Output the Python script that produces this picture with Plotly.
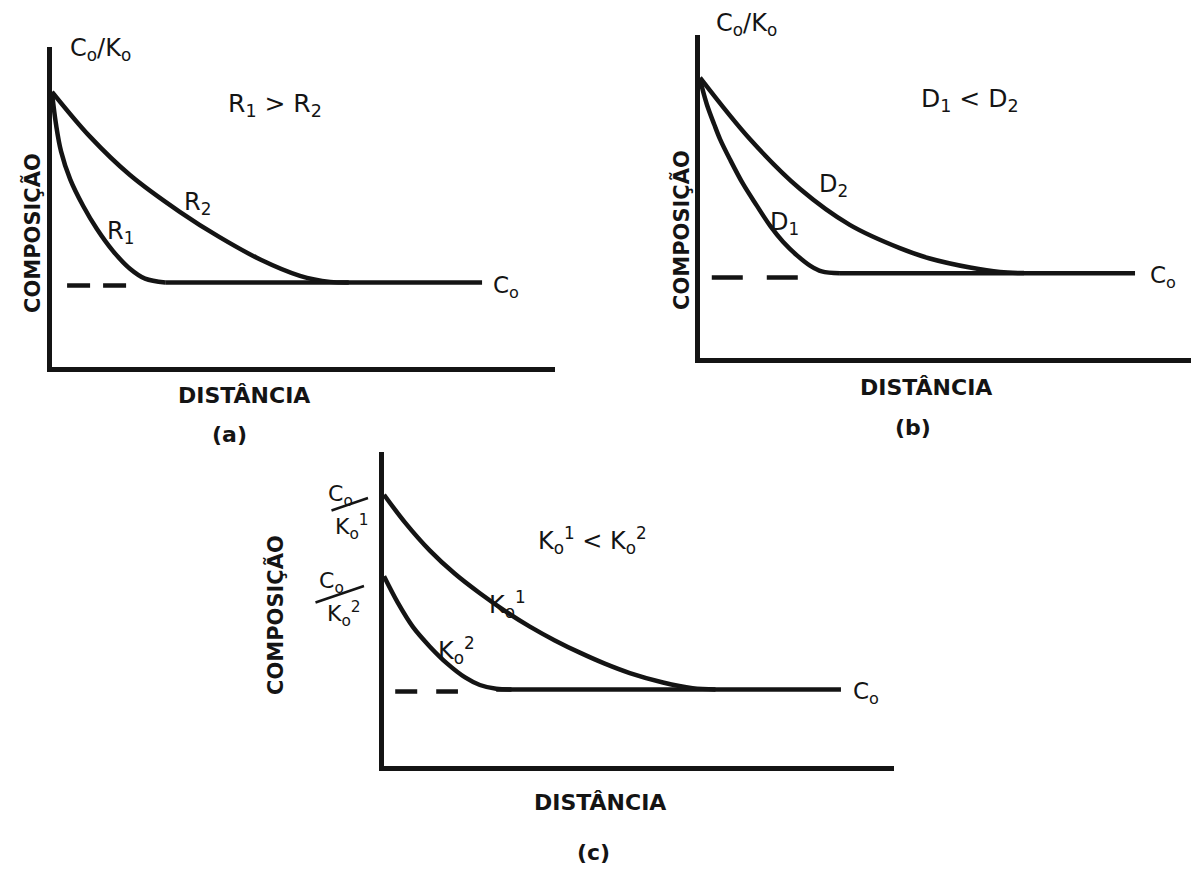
import plotly.graph_objects as go

# ---------------- data (schematic units: distance 0-100, composition 0-100) -------------
# panel (a): effect of growth rate R
a_r2_x = [0, 7.55, 15.5, 25.4, 33.4, 41.4, 49.3, 55.3, 59.0]
a_r2_y = [86.0, 72.0, 60.0, 48.5, 40.5, 33.6, 28.5, 26.6, 26.4]
a_r1_x = [0, 0.8, 1.8, 3.6, 6.2, 8.9, 12.1, 15.5, 18.5, 22.5]
a_r1_y = [85.7, 75.8, 67.4, 58.7, 50.3, 43.2, 36.3, 30.7, 27.6, 26.4]
a_base_x = [22.5, 85.5]
a_base_y = [26.4, 26.4]
a_dash_x = [3.0, 15.1]
a_dash_y = [25.5, 25.5]

# panel (b): effect of diffusion coefficient D
b_d2_x = [0, 10.2, 20.4, 30.5, 40.7, 46.8, 55.0, 61.1, 66.0]
b_d2_y = [86.8, 67.7, 52.3, 41.2, 34.0, 30.8, 28.0, 26.6, 26.3]
b_d1_x = [0, 1.4, 2.9, 4.1, 6.1, 8.8, 11.6, 14.3, 16.9, 19.8, 22.4, 24.8, 28.5]
b_d1_y = [86.2, 78.5, 72.3, 67.7, 61.5, 53.8, 47.1, 40.9, 36.0, 31.7, 28.6, 26.8, 26.2]
b_base_x = [28.5, 88.6]
b_base_y = [26.2, 26.2]
b_dash_x = [2.4, 20.0]
b_dash_y = [24.9, 24.9]

# panel (c): effect of partition coefficient K0
c_k1_x = [0, 4.1, 9.0, 13.9, 18.8, 23.7, 28.6, 33.5, 38.4, 43.3, 48.2, 54.7, 60.5, 65.0]
c_k1_y = [86.4, 77.6, 68.6, 61.2, 55.0, 49.4, 44.4, 40.0, 36.1, 32.6, 29.6, 26.6, 24.8, 24.4]
c_k2_x = [0, 2.7, 5.7, 9.0, 12.4, 15.9, 18.8, 22.0, 25.0]
c_k2_y = [60.4, 52.0, 44.2, 38.0, 32.6, 28.2, 25.8, 24.6, 24.4]
c_base_x = [22.0, 89.6]
c_base_y = [24.4, 24.4]
c_dash_x = [2.2, 14.5]
c_dash_y = [23.7, 23.7]

# ---------------- styling -------------
INK = "#141414"
FONT = "DejaVu Sans"
W, H = 1191, 869


def px_dom_x(l, r):
    return [l / W, r / W]


def px_dom_y(top, bottom):
    return [(H - bottom) / H, (H - top) / H]


fig = go.Figure()


def curve(x, y, ax, width=4.5, dash=None):
    fig.add_trace(go.Scatter(
        x=x, y=y, xaxis=ax[0], yaxis=ax[1], mode="lines",
        line=dict(color=INK, width=width, shape="spline", smoothing=1.0,
                  dash=dash),
        showlegend=False, hoverinfo="skip"))


A = ("x", "y")
B = ("x2", "y2")
C = ("x3", "y3")

curve(a_r2_x, a_r2_y, A)
curve(a_r1_x, a_r1_y, A)
curve(a_base_x, a_base_y, A)
curve(a_dash_x, a_dash_y, A, dash="23px,13px")

curve(b_d2_x, b_d2_y, B)
curve(b_d1_x, b_d1_y, B)
curve(b_base_x, b_base_y, B)
curve(b_dash_x, b_dash_y, B, dash="31px,24px")

curve(c_k1_x, c_k1_y, C)
curve(c_k2_x, c_k2_y, C)
curve(c_base_x, c_base_y, C)
curve(c_dash_x, c_dash_y, C, dash="22px,19px")

axis_style = dict(showline=True, linewidth=5, linecolor=INK, showgrid=False,
                  zeroline=False, showticklabels=False, ticks="",
                  range=[0, 100], fixedrange=True)

fig.update_layout(
    width=W, height=H, margin=dict(l=0, r=0, t=0, b=0),
    paper_bgcolor="white", plot_bgcolor="white",
    xaxis=dict(domain=px_dom_x(52, 555), anchor="y", **axis_style),
    yaxis=dict(domain=px_dom_y(47, 367), anchor="x", **axis_style),
    xaxis2=dict(domain=px_dom_x(700, 1191), anchor="y2", **axis_style),
    yaxis2=dict(domain=px_dom_y(35, 358), anchor="x2", **axis_style),
    xaxis3=dict(domain=px_dom_x(384, 894), anchor="y3", **axis_style),
    yaxis3=dict(domain=px_dom_y(452, 766), anchor="x3", **axis_style),
    showlegend=False,
)


def label(px, py, text, size=22, bold=False, angle=0):
    fig.add_annotation(
        xref="paper", yref="paper", x=px / W, y=1 - py / H, text=text,
        showarrow=False, textangle=angle, xanchor="center", yanchor="middle",
        font=dict(family=FONT, size=size, color=INK,
                  weight="bold" if bold else "normal"))


def stroke(x_head, y_head, dx_tail, dy_tail):
    fig.add_annotation(
        xref="paper", yref="paper", x=x_head / W, y=1 - y_head / H,
        ax=dx_tail, ay=dy_tail, axref="pixel", ayref="pixel", text="",
        showarrow=True, arrowhead=0, arrowwidth=2.5, arrowcolor=INK,
        standoff=0, startstandoff=0)


# panel (a)
label(100, 50, "C<sub>o</sub>/K<sub>o</sub>", 24)
label(275, 105, "R<sub>1</sub> > R<sub>2</sub>", 25)
label(198, 203, "R<sub>2</sub>", 24)
label(120, 233, "R<sub>1</sub>", 24)
label(506, 287, "C<sub>o</sub>", 23)
label(33, 233, "COMPOSIÇÃO", 21, bold=True, angle=-90)
label(244, 395, "DISTÂNCIA", 22, bold=True)
label(229, 434, "(a)", 22, bold=True)

# panel (b)
label(746, 25, "C<sub>o</sub>/K<sub>o</sub>", 24)
label(970, 100, "D<sub>1</sub> < D<sub>2</sub>", 25)
label(833, 186, "D<sub>2</sub>", 24)
label(785, 223, "D<sub>1</sub>", 24)
label(1163, 277, "C<sub>o</sub>", 23)
label(681, 230, "COMPOSIÇÃO", 21, bold=True, angle=-90)
label(926, 387, "DISTÂNCIA", 22, bold=True)
label(913, 427, "(b)", 22, bold=True)

# panel (c)
label(340, 495, "C<sub>o</sub>", 22)
stroke(368, 498, -38, 13)
label(352, 527, "K<sub>o</sub><sup>1</sup>", 22)
label(332, 582, "C<sub>o</sub>", 22)
stroke(364, 586, -50, 17)
label(344, 614, "K<sub>o</sub><sup>2</sup>", 22)
label(592, 540, "K<sub>o</sub><sup>1</sup> < K<sub>o</sub><sup>2</sup>", 24)
label(507, 604, "K<sub>o</sub><sup>1</sup>", 24)
label(456, 650, "K<sub>o</sub><sup>2</sup>", 24)
label(866, 693, "C<sub>o</sub>", 23)
label(275, 615, "COMPOSIÇÃO", 21, bold=True, angle=-90)
label(600, 802, "DISTÂNCIA", 22, bold=True)
label(593, 852, "(c)", 22, bold=True)

fig.write_html("out.html")
